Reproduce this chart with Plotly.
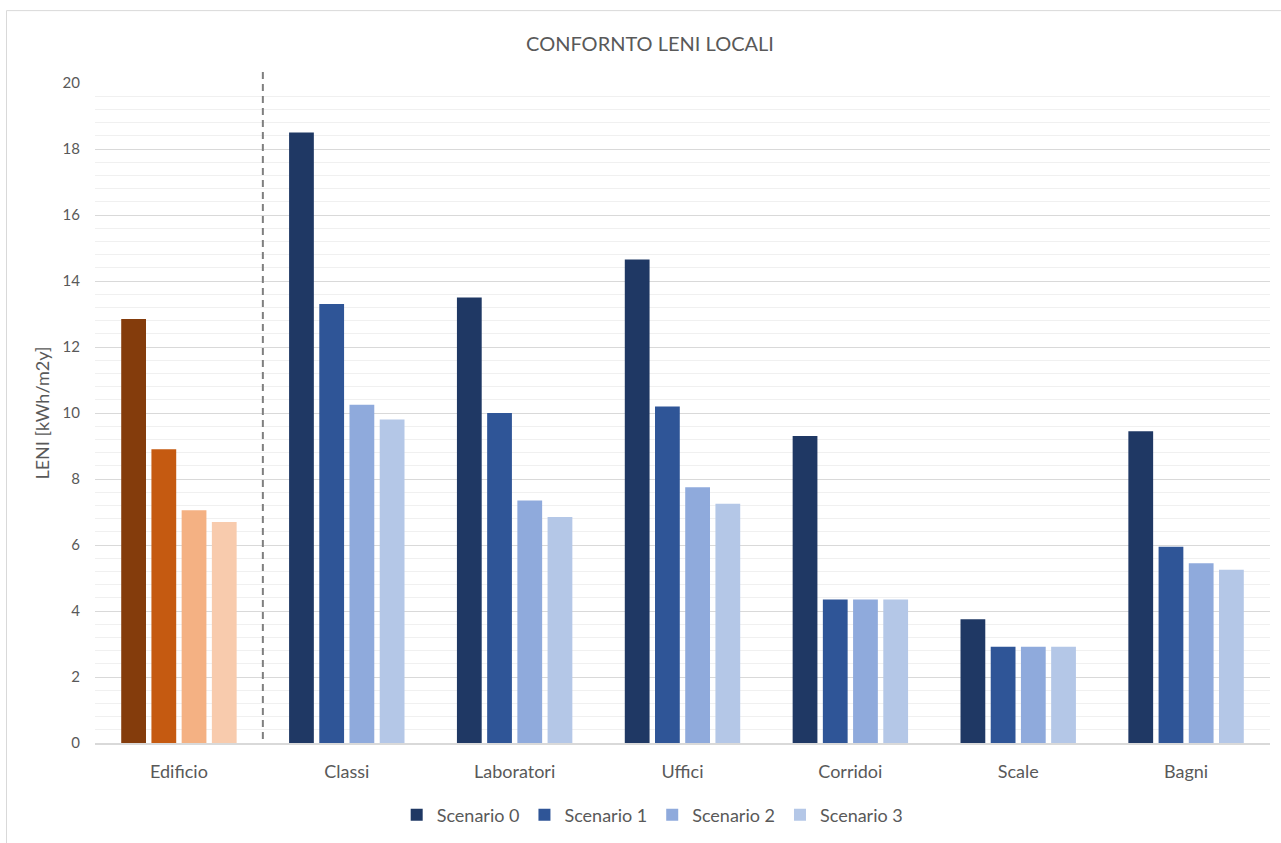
import plotly.graph_objects as go

# Categories and LENI values per scenario
categories = ["Edificio", "Classi", "Laboratori", "Uffici", "Corridoi", "Scale", "Bagni"]
scenarios = ["Scenario 0", "Scenario 1", "Scenario 2", "Scenario 3"]

scenario_0 = [12.85, 18.5, 13.5, 14.65, 9.3, 3.75, 9.45]
scenario_1 = [8.9, 13.3, 10.0, 10.2, 4.35, 2.92, 5.95]
scenario_2 = [7.05, 10.25, 7.35, 7.75, 4.35, 2.92, 5.45]
scenario_3 = [6.7, 9.8, 6.85, 7.25, 4.35, 2.92, 5.25]

y_ticks = [0, 2, 4, 6, 8, 10, 12, 14, 16, 18, 20]

series = [scenario_0, scenario_1, scenario_2, scenario_3]
blue_colors = ["#1f3864", "#2f5597", "#8faadc", "#b4c7e7"]
orange_colors = ["#843c0c", "#c55a11", "#f4b183", "#f8cbad"]

FONT = "Lato, 'Open Sans', sans-serif"
TEXT = "#595959"

fig = go.Figure()

for i, (name, vals) in enumerate(zip(scenarios, series)):
    # whole-building bars (orange), sharing the offset slot of the scenario
    fig.add_trace(go.Bar(
        x=categories[:1], y=vals[:1], name=name, showlegend=False,
        offsetgroup=str(i), marker=dict(color=orange_colors[i], line=dict(width=0)),
        hovertemplate="%{x}<br>" + name + ": %{y}<extra></extra>",
    ))
    # room-type bars (blue)
    fig.add_trace(go.Bar(
        x=categories[1:], y=vals[1:], name=name,
        offsetgroup=str(i), marker=dict(color=blue_colors[i], line=dict(width=0)),
        hovertemplate="%{x}<br>" + name + ": %{y}<extra></extra>",
    ))

W, H = 1281, 843
ml, mr, mt, mb = 95, 11, 83, 99
pw, ph = W - ml - mr, H - mt - mb

def px_to_paper_x(px):
    return (px - ml) / pw

def px_to_paper_y(py):
    return (H - mb - py) / ph

shapes = [
    # outer chart frame
    dict(type="rect", xref="paper", yref="paper",
         x0=px_to_paper_x(6.5), x1=px_to_paper_x(1300),
         y0=px_to_paper_y(900), y1=px_to_paper_y(10.5),
         line=dict(color="#d9d9d9", width=1), fillcolor="rgba(0,0,0,0)", layer="below"),
    # dashed separator between building total and room types
    dict(type="line", xref="paper", yref="paper",
         x0=1 / len(categories), x1=1 / len(categories),
         y0=px_to_paper_y(740), y1=px_to_paper_y(70),
         line=dict(color="#7f7f7f", width=2, dash="7px,5px"), layer="above"),
]

fig.update_layout(
    width=W, height=H,
    margin=dict(l=ml, r=mr, t=mt, b=mb, pad=0),
    paper_bgcolor="white", plot_bgcolor="white",
    barmode="group", bargap=0.28, bargroupgap=0.18,
    font=dict(family=FONT, color=TEXT, size=14),
    title=dict(text="CONFORNTO LENI LOCALI", x=650 / W, xanchor="center",
               y=1 - 44 / H, yanchor="middle",
               font=dict(family=FONT, size=20, color=TEXT)),
    legend=dict(orientation="h", x=608 / W, xanchor="center",
                y=px_to_paper_y(815), yanchor="middle",
                font=dict(family=FONT, size=18, color=TEXT),
                itemwidth=30, tracegroupgap=0, traceorder="normal"),
    xaxis=dict(
        categoryorder="array", categoryarray=categories,
        showgrid=False, showline=True, linecolor="#d9d9d9", linewidth=1.5,
        ticks="", tickfont=dict(family=FONT, size=18, color=TEXT),
        ticklabelstandoff=12, range=[-0.5, len(categories) - 0.5],
    ),
    yaxis=dict(
        range=[0, 20], tickvals=y_ticks, ticks="",
        showgrid=True, gridcolor="#d9d9d9", gridwidth=1.3,
        zeroline=False, showline=False,
        tickfont=dict(family=FONT, size=15, color=TEXT),
        ticklabelstandoff=14,
        minor=dict(dtick=0.4, showgrid=True, gridcolor="#f0f0f0", gridwidth=1.3),
        title=dict(text="LENI [kWh/m2y]", font=dict(family=FONT, size=18, color=TEXT),
                   standoff=8),
    ),
    shapes=shapes,
)

fig.write_html("out.html")
